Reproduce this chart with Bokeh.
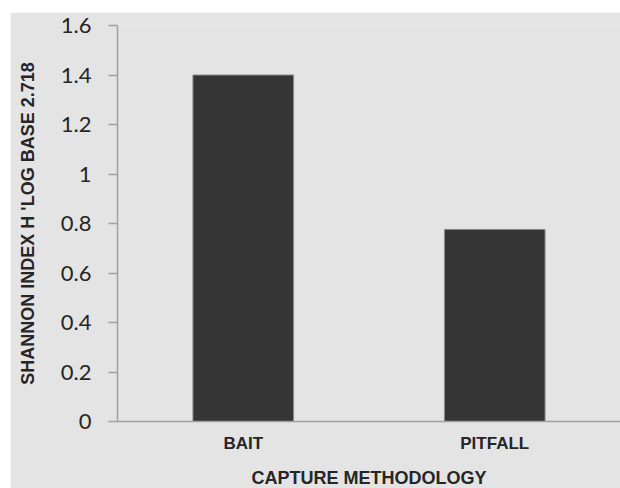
from bokeh.plotting import figure
from bokeh.models import ColumnDataSource, FactorRange, Range1d, FixedTicker, Spacer
from bokeh.layouts import column, row
from bokeh.embed import file_html
from bokeh.resources import INLINE

# Shannon diversity per capture method
methods = ["BAIT", "PITFALL"]
shannon_h = [1.40, 0.776]

y_ticks = [0, 0.2, 0.4, 0.6, 0.8, 1.0, 1.2, 1.4, 1.6]
y_tick_labels = ["0", "0.2", "0.4", "0.6", "0.8", "1", "1.2", "1.4", "1.6"]

BG = "#e4e4e4"
AXIS = "#a0a0a0"
TEXT = "#262626"

source = ColumnDataSource(data=dict(method=methods, h=shannon_h))

p = figure(
    frame_width=503, frame_height=396,
    x_range=FactorRange(factors=methods, range_padding=0),
    y_range=Range1d(0, 1.6),
    output_backend="svg", toolbar_location=None,
    min_border_left=107, min_border_top=13,
    min_border_bottom=60, min_border_right=0,
)
p.background_fill_color = BG
p.border_fill_color = BG
p.outline_line_color = None
p.grid.visible = False

p.vbar(x="method", top="h", width=0.4, source=source,
       fill_color="#353535", line_color="#8a8a8a", line_width=1)

# vertical axis
ya = p.yaxis[0]
ya.ticker = FixedTicker(ticks=y_ticks)
ya.major_label_overrides = {t: s for t, s in zip(y_ticks, y_tick_labels)}
ya.axis_line_color = AXIS
ya.axis_line_width = 1.5
ya.major_tick_line_color = AXIS
ya.major_tick_line_width = 1.5
ya.major_tick_out = 9
ya.major_tick_in = 0
ya.minor_tick_line_color = None
ya.major_label_text_font = "Lato"
ya.major_label_text_font_size = "22px"
ya.major_label_text_color = TEXT
ya.major_label_standoff = 17
ya.axis_label = "SHANNON INDEX H 'LOG BASE 2.718"
ya.axis_label_text_font = "Liberation Sans"
ya.axis_label_text_font_style = "bold"
ya.axis_label_text_font_size = "18px"
ya.axis_label_text_color = TEXT
ya.axis_label_standoff = 20

# horizontal axis
xa = p.xaxis[0]
xa.axis_line_color = AXIS
xa.axis_line_width = 1.5
xa.major_tick_line_color = None
xa.major_tick_out = 0
xa.minor_tick_line_color = None
xa.major_label_text_font = "Liberation Sans"
xa.major_label_text_font_style = "bold"
xa.major_label_text_font_size = "17px"
xa.major_label_text_color = TEXT
xa.major_label_standoff = 12
xa.axis_label = "CAPTURE METHODOLOGY"
xa.axis_label_text_font = "Liberation Sans"
xa.axis_label_text_font_style = "bold"
xa.axis_label_text_font_size = "18px"
xa.axis_label_text_color = TEXT
xa.axis_label_standoff = 12

layout = column(Spacer(height=12), row(Spacer(width=10), p))

open("out.html", "w").write(file_html(layout, INLINE))
